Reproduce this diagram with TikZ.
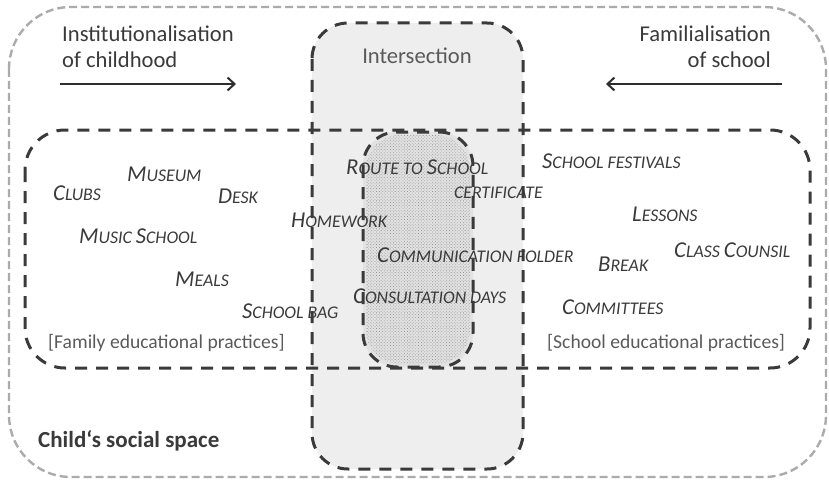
\documentclass[tikz,border=0pt]{standalone}
\usepackage{fontspec}
\setmainfont{Carlito}
\usetikzlibrary{arrows.meta,patterns.meta}
\definecolor{ink}{HTML}{3A3A3A}
\definecolor{softink}{HTML}{5A5A5A}
\definecolor{outerdash}{HTML}{ABABAB}
\definecolor{zonefill}{HTML}{EEEEEF}
\definecolor{dotfill}{HTML}{E2E2E2}
% larger initial letter for the hand-made small caps
\newcommand\Bg[1]{{\fontsize{22.7}{22.7}\selectfont #1}}
\tikzset{
  outerbox/.style={draw=outerdash, line width=2.4pt, dash pattern=on 8pt off 4pt, rounded corners=62pt},
  darkbox/.style={draw=ink, line width=3pt, dash pattern=on 12pt off 9pt},
  practice/.style={anchor=base west, inner sep=0pt, text=ink, font=\fontsize{17.8}{17.8}\selectfont\itshape},
  heading/.style={inner sep=0pt, text=ink, font=\fontsize{22.6}{26.5}\selectfont},
  bracket/.style={anchor=base west, inner sep=0pt, text=softink, font=\fontsize{19.6}{19.6}\selectfont},
  pusharrow/.style={draw=ink!80!black, line width=2pt, -{Straight Barb[length=7pt,width=13pt,line width=2pt]}},
}
\begin{document}
\begin{tikzpicture}[x=1pt,y=-1pt]
\useasboundingbox (0,0) rectangle (829,484);

% fills: intersection column and the shared dotted zone
\fill[zonefill, rounded corners=36pt] (312,23) rectangle (523,469);
\fill[dotfill, rounded corners=34pt] (363,132) rectangle (473,367);
\fill[pattern={Dots[distance=2.2pt,radius=0.55pt,angle=45]}, pattern color=gray!85, rounded corners=34pt] (366,135) rectangle (470,364);

% headings (base anchor sits on the second line)
\node[heading, anchor=base west, align=left] (inst) at (62,68) {Institutionalisation\\of childhood};
\node[heading, anchor=base east, align=right] (fam) at (771,68) {Familialisation\\of school};
\node[heading, anchor=base, text=softink] (inter) at (417,64) {Intersection};
\node[anchor=base west, inner sep=0pt, text=ink, font=\fontsize{23}{23}\selectfont\bfseries] (space) at (38,447) {Child‘s social space};

% arrows
\coordinate (ia) at (60,84);
\coordinate (ib) at (236,84);
\coordinate (fa) at (782,84);
\coordinate (fb) at (606,84);
\draw[pusharrow] (ia) -- (ib);
\draw[pusharrow] (fa) -- (fb);

% family side practices
\node[practice] (museum) at (127,181) {\Bg{M}USEUM};
\node[practice] (clubs) at (53,200) {\Bg{C}LUBS};
\node[practice] (desk) at (218,203) {\Bg{D}ESK};
\node[practice] (homework) at (291,227) {\Bg{H}OMEWORK};
\node[practice] (music) at (79,243) {\Bg{M}USIC \Bg{S}CHOOL};
\node[practice] (meals) at (175,286) {\Bg{M}EALS};
\node[practice] (bag) at (242,318) {\Bg{S}CHOOL BAG};
\node[bracket] (famlab) at (48,348) {[Family educational practices]};

% shared practices
\node[practice] (route) at (346,174) {\Bg{R}OUTE TO \Bg{S}CHOOL};
\node[practice] (cert) at (454,198) {CERTIFICATE};
\node[practice] (folder) at (377,262) {\Bg{C}OMMUNICATION FOLDER};
\node[practice] (consult) at (353,303) {\Bg{C}ONSULTATION DAYS};

% school side practices
\node[practice] (fest) at (542,168) {\Bg{S}CHOOL FESTIVALS};
\node[practice] (lessons) at (632,221) {\Bg{L}ESSONS};
\node[practice] (counsil) at (674,257) {\Bg{C}LASS \Bg{C}OUNSIL};
\node[practice] (break) at (598,271) {\Bg{B}REAK};
\node[practice] (comm) at (562,314) {\Bg{C}OMMITTEES};
\node[bracket] (schlab) at (547,348) {[School educational practices]};

% outlines
\draw[outerbox] (9,7) rectangle (826,477);
\draw[darkbox, rounded corners=40pt] (25,130) rectangle (810,368);
\draw[darkbox, rounded corners=36pt] (312,23) rectangle (523,469);
\draw[darkbox, rounded corners=34pt] (363,132) rectangle (473,367);
\end{tikzpicture}
\end{document}
